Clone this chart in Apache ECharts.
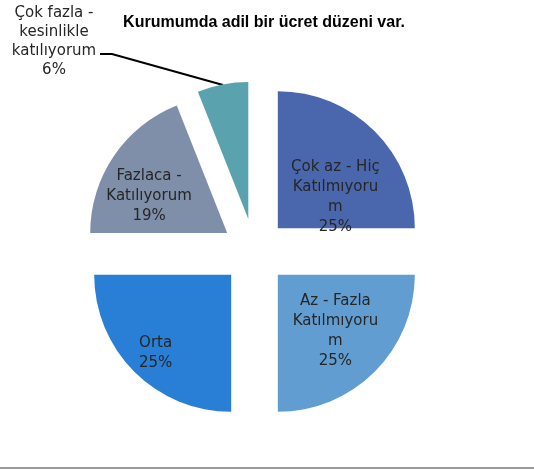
<!DOCTYPE html>
<html>
<head>
<meta charset="utf-8">
<script src="https://cdn.jsdelivr.net/npm/echarts@6/dist/echarts.min.js"></script>
<style>
  html, body { margin: 0; padding: 0; background: #fff; }
  #chart { width: 534px; height: 472px; }
</style>
</head>
<body>
<div id="chart"></div>
<script>
// veri
var categories = ['Çok az - Hiç\nKatılmıyoru\nm', 'Az - Fazla\nKatılmıyoru\nm', 'Orta', 'Fazlaca -\nKatılıyorum', 'Çok fazla -\nkesinlikle\nkatılıyorum'];
var values = [25, 25, 25, 19, 6];
var colors = ['#4A66AC', '#629DD1', '#297FD5', '#7F8FA9', '#5AA2AE'];
var titleText = 'Kurumumda adil bir ücret düzeni var.';

// etiket kaydırmaları (excel yerleşimine yakın)
var labelShift = [[7, 20], [7, 6], [-25, 28], [-19, 3], null];
// dış etiket: merkez ve kılavuz çizgi
var outerLabelCenter = [54, 42];
var outerLinePts = [[100, 54], [112, 54], [223, 85]];
var explode = 33;

var chart = echarts.init(document.getElementById('chart'), null, { renderer: 'canvas' });

var total = 0;
for (var k = 0; k < values.length; k++) total += values[k];

var pieData = [];
for (var i = 0; i < values.length; i++) {
  var item = {
    name: categories[i],
    value: values[i],
    selected: true,
    itemStyle: { color: colors[i] }
  };
  if (i === 4) {
    item.label = { position: 'outside', lineHeight: 19 };
    item.labelLine = { show: true, length: 10, length2: 10, lineStyle: { color: '#000', width: 2 } };
  }
  pieData.push(item);
}

// secili dilimin kayma vektoru (etiket ve cizgi yerel koordinatta)
function sliceShift(idx) {
  var before = 0;
  for (var j = 0; j < idx; j++) before += values[j];
  var mid = (before + values[idx] / 2) / total * Math.PI * 2;
  return [Math.sin(mid) * explode, -Math.cos(mid) * explode];
}

var option = {
  animation: false,
  backgroundColor: '#fff',
  title: {
    text: titleText,
    left: 259,
    top: 10,
    textAlign: 'center',
    textStyle: {
      fontFamily: 'Liberation Sans',
      fontWeight: 'bold',
      fontSize: 16,
      color: '#000'
    }
  },
  graphic: [{
    type: 'rect',
    shape: { x: 0, y: 467, width: 534, height: 2 },
    style: { fill: '#9a9a9a' },
    silent: true
  }],
  series: [{
    type: 'pie',
    center: [254.5, 251.5],
    radius: 137,
    startAngle: 90,
    clockwise: true,
    selectedMode: 'multiple',
    selectedOffset: explode,
    avoidLabelOverlap: false,
    emphasis: { disabled: true },
    label: {
      show: true,
      position: 'inside',
      formatter: function (p) { return p.name + '\n' + Math.round(p.percent) + '%'; },
      fontFamily: 'DejaVu Sans',
      fontSize: 15,
      lineHeight: 20,
      color: '#262626',
      align: 'center'
    },
    labelLine: { show: false },
    labelLayout: function (p) {
      var s = labelShift[p.dataIndex];
      if (s) return { dx: s[0], dy: s[1] };
      var r = p.labelRect;
      var off = sliceShift(p.dataIndex);
      var pts = outerLinePts.map(function (pt) { return [pt[0] - off[0], pt[1] - off[1]]; });
      return {
        align: 'center',
        dx: outerLabelCenter[0] - off[0] - (r.x + r.width),
        dy: outerLabelCenter[1] - off[1] - (r.y + r.height / 2),
        labelLinePoints: pts
      };
    },
    data: pieData
  }]
};

chart.setOption(option);
</script>
</body>
</html>
